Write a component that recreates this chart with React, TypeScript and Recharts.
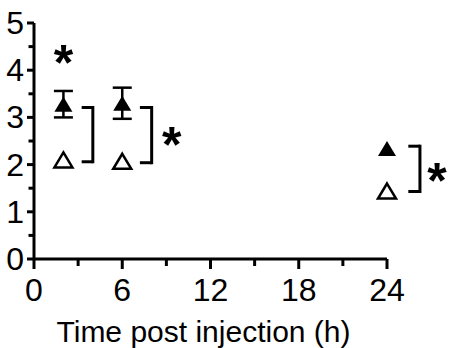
import { ScatterChart, Scatter, XAxis, YAxis, ErrorBar, ReferenceLine, ReferenceDot } from 'recharts';

const times = [2, 6, 24];
const treatedMean = [3.28, 3.3, 2.34];
const treatedErr: (number | null)[] = [0.28, 0.33, null];
const controlMean = [2.1, 2.07, 1.44];

const xTicks = [0, 3, 6, 9, 12, 15, 18, 21, 24];
const yTicks = [0, 0.5, 1, 1.5, 2, 2.5, 3, 3.5, 4, 4.5, 5];

// significance brackets (data units)
const bracketLeft = [3.24, 7.2, 25.45];
const bracketRight = [4.0, 8.0, 26.24];
const bracketTop = [3.21, 3.21, 2.39];
const bracketBottom = [2.06, 2.04, 1.43];

const starX = [2, 9.36, 27.4];
const starY = [4.3, 2.57, 1.81];

const FONT = '"Liberation Sans", Arial, Helvetica, sans-serif';

const treated = times.map((t, i) => ({ t, v: treatedMean[i], err: treatedErr[i] }));
const control = times.map((t, i) => ({ t, v: controlMean[i] }));

const FilledTriangle = (props: any) => {
  const { cx, cy } = props;
  const w = 18, h = 15;
  return <path d={`M${cx},${cy - h / 2} L${cx + w / 2},${cy + h / 2} L${cx - w / 2},${cy + h / 2} Z`} fill="#000" />;
};

const OpenTriangle = (props: any) => {
  const { cx, cy } = props;
  const w = 18, h = 15;
  return (
    <path
      d={`M${cx},${cy - h / 2} L${cx + w / 2},${cy + h / 2} L${cx - w / 2},${cy + h / 2} Z`}
      fill="#fff"
      stroke="#000"
      strokeWidth={2.5}
    />
  );
};

const YTick = (props: any) => {
  const { x, y, payload } = props;
  const major = Number.isInteger(payload.value);
  return (
    <g>
      <line x1={x - (major ? 7 : 5.5)} x2={x} y1={y} y2={y} stroke="#000" strokeWidth={3} />
      {major && (
        <text x={x - 10} y={y} textAnchor="end" dominantBaseline="central" fontSize={32} fontFamily={FONT} fill="#000">
          {payload.value}
        </text>
      )}
    </g>
  );
};

const XTick = (props: any) => {
  const { x, y, payload } = props;
  const major = payload.value % 6 === 0;
  return (
    <g>
      <line x1={x} x2={x} y1={y} y2={y + (major ? 10 : 7)} stroke="#000" strokeWidth={3} />
      {major && (
        <text x={x} y={y + 31} textAnchor="middle" dominantBaseline="central" fontSize={32} fontFamily={FONT} fill="#000">
          {payload.value}
        </text>
      )}
    </g>
  );
};

const Star = (props: any) => {
  const { cx, cy } = props;
  return (
    <text x={cx} y={cy + 24} textAnchor="middle" fontSize={50} fontWeight="bold" fontFamily={FONT} fill="#000">
      *
    </text>
  );
};

export default function App() {
  return (
    <div style={{ position: 'absolute', left: 0, top: 0, background: '#fff' }}>
      <ScatterChart width={449} height={348} margin={{ top: 23, right: 62, left: 0, bottom: 0 }}>
        <XAxis
          type="number"
          dataKey="t"
          domain={[0, 24]}
          ticks={xTicks}
          interval={0}
          tickLine={false}
          tickSize={0}
          tickMargin={0}
          tick={<XTick />}
          axisLine={{ stroke: '#000', strokeWidth: 3 }}
          height={89}
          label={{
            position: 'insideBottom',
            content: (p: any) => {
              const vb = p.viewBox;
              return (
                <text x={vb.x + vb.width / 2 - 7} y={vb.y + vb.height - 6} textAnchor="middle" fontSize={30} fontFamily={FONT} fill="#000">
                  Time post injection (h)
                </text>
              );
            },
          }}
        />
        <YAxis
          type="number"
          dataKey="v"
          domain={[0, 5]}
          ticks={yTicks}
          interval={0}
          width={34}
          tickLine={false}
          tickSize={0}
          tickMargin={0}
          tick={<YTick />}
          axisLine={{ stroke: '#000', strokeWidth: 3 }}
        />
        {times.map((_, i) => (
          <ReferenceLine
            key={`bt${i}`}
            ifOverflow="visible"
            segment={[{ x: bracketLeft[i], y: bracketTop[i] }, { x: bracketRight[i], y: bracketTop[i] }]}
            stroke="#000"
            strokeWidth={3}
          />
        ))}
        {times.map((_, i) => (
          <ReferenceLine
            key={`bv${i}`}
            ifOverflow="visible"
            segment={[{ x: bracketRight[i], y: bracketTop[i] }, { x: bracketRight[i], y: bracketBottom[i] }]}
            stroke="#000"
            strokeWidth={3}
            strokeLinecap="square"
          />
        ))}
        {times.map((_, i) => (
          <ReferenceLine
            key={`bb${i}`}
            ifOverflow="visible"
            segment={[{ x: bracketLeft[i], y: bracketBottom[i] }, { x: bracketRight[i], y: bracketBottom[i] }]}
            stroke="#000"
            strokeWidth={3}
          />
        ))}
        {starX.map((sx, i) => (
          <ReferenceDot key={`s${i}`} x={sx} y={starY[i]} ifOverflow="visible" shape={<Star />} />
        ))}
        <Scatter data={treated} shape={<FilledTriangle />} isAnimationActive={false}>
          <ErrorBar dataKey="err" direction="y" width={9.5} stroke="#000" strokeWidth={2.5} isAnimationActive={false} />
        </Scatter>
        <Scatter data={control} shape={<OpenTriangle />} isAnimationActive={false} />
      </ScatterChart>
    </div>
  );
}
